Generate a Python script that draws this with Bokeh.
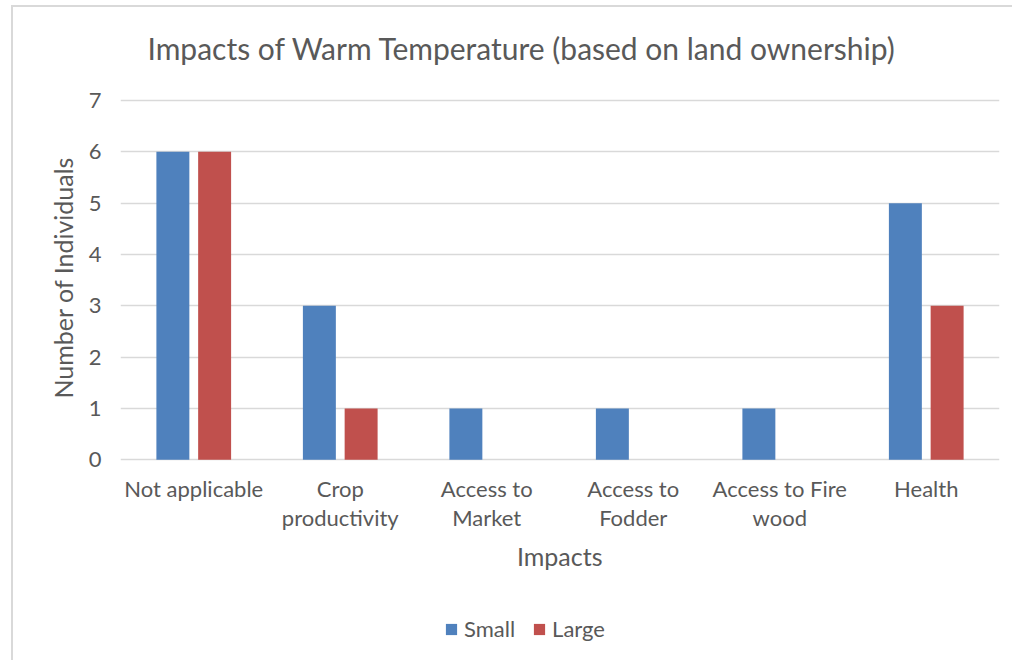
from bokeh.plotting import figure
from bokeh.models import FactorRange, Range1d, Legend, LegendItem, Title, ColumnDataSource
from bokeh.core.properties import value
from bokeh.transform import dodge
from bokeh.embed import file_html
from bokeh.resources import INLINE

categories = ["Not applicable", "Crop productivity", "Access to Market",
              "Access to Fodder", "Access to Fire wood", "Health"]
label_line1 = ["Not applicable", "Crop", "Access to", "Access to", "Access to Fire", "Health"]
label_line2 = ["", "productivity", "Market", "Fodder", "wood", ""]
small = [6, 3, 1, 1, 1, 5]
large = [6, 1, 0, 0, 0, 3]
y_ticks = [0, 1, 2, 3, 4, 5, 6, 7]

TXT = "#595959"
FONT = "Lato"
GRID = "#d9d9d9"

# label rows (data units below zero, in the frame)
ROW1, ROW2, XLAB = -0.564, -1.128, -1.867

src = ColumnDataSource(dict(cat=categories, small=small, large=large))
lab = ColumnDataSource(dict(cat=categories, l1=label_line1, l2=label_line2,
                            y1=[ROW1] * len(categories), y2=[ROW2] * len(categories)))

W, H = 1012, 660
p = figure(width=W, height=H, x_range=FactorRange(*categories, range_padding=0),
           y_range=Range1d(-3.908, 7.156), output_backend="svg", toolbar_location=None,
           min_border_left=120, min_border_right=W - 999, min_border_top=91, min_border_bottom=0)
p.outline_line_color = None
p.border_fill_alpha = 0
p.background_fill_alpha = 0
p.styles = {"box-shadow": "inset 11px 5px 0 0 #ffffff, inset 13px 7px 0 0 #d9d9d9"}
p.title.visible = False

t = Title(text="Impacts of Warm Temperature (based on land ownership)", align="left",
          text_font=FONT, text_font_size="30px", text_color=TXT, text_font_style="normal",
          offset=27, standoff=54)
p.add_layout(t, "above")

yt = Title(text="Number of Individuals", align="left",
           text_font=FONT, text_font_size="25px", text_color=TXT, text_font_style="normal",
           offset=262, standoff=16)
p.add_layout(yt, "left")

rs = p.vbar(x=dodge("cat", -0.1425, range=p.x_range), top="small", width=0.225, source=src,
            fill_color="#4F81BD", line_color=None)
rl = p.vbar(x=dodge("cat", 0.1425, range=p.x_range), top="large", width=0.225, source=src,
            fill_color="#C0504D", line_color=None)

p.text(x="cat", y="y1", text="l1", source=lab, text_font=value(FONT), text_font_size="22px",
       text_color=TXT, text_align="center", text_baseline="middle")
p.text(x="cat", y="y2", text="l2", source=lab, text_font=value(FONT), text_font_size="22px",
       text_color=TXT, text_align="center", text_baseline="middle")
p.text(x=[categories[2]], y=[XLAB], text=["Impacts"], x_offset=73, text_font=value(FONT),
       text_font_size="25px", text_color=TXT, text_align="center", text_baseline="middle")

p.xaxis.visible = False
p.xgrid.visible = False
p.ygrid.grid_line_color = GRID
p.ygrid.grid_line_width = 1.5

ya = p.yaxis[0]
ya.ticker = y_ticks
ya.axis_line_color = None
ya.major_tick_line_color = None
ya.minor_tick_line_color = None
ya.major_tick_out = 0
ya.major_tick_in = 0
ya.major_label_text_font = FONT
ya.major_label_text_font_size = "22px"
ya.major_label_text_color = TXT
ya.major_label_standoff = 19

legend = Legend(items=[LegendItem(label="Small", renderers=[rs]),
                       LegendItem(label="Large", renderers=[rl])],
                orientation="horizontal", location=(324, 18),
                label_text_font=FONT, label_text_font_size="22px", label_text_color=TXT,
                glyph_width=14, glyph_height=14, spacing=17, padding=0, margin=0,
                border_line_color=None, background_fill_alpha=0, label_standoff=6)
p.add_layout(legend, "center")

open("out.html", "w").write(file_html(p, INLINE))
